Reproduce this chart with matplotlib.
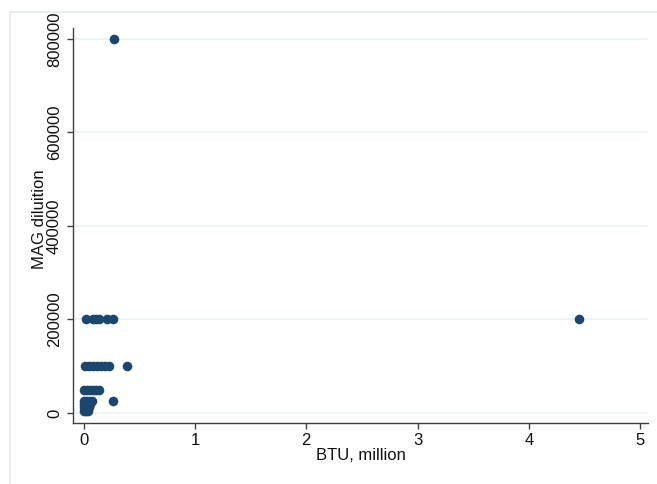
import numpy as np
import matplotlib.pyplot as plt
from matplotlib.lines import Line2D

plt.rcParams['font.family'] = ['Liberation Sans', 'DejaVu Sans']

# BTU (million) and MAG dilution
btu_200k = [0.02, 0.084, 0.11, 0.14, 0.21, 0.26, 4.45]
btu_100k = [0.012, 0.05, 0.084, 0.12, 0.155, 0.19, 0.23, 0.39]
btu_50k = [0.003, 0.03, 0.057, 0.084, 0.11, 0.137]
btu_25k = [0.0, 0.025, 0.05, 0.075, 0.26]
btu_low = [0.0, 0.01, 0.02, 0.035, 0.05, 0.06, 0.0, 0.015, 0.03, 0.045, 0.005, 0.02, 0.04]
mag_low = [20000, 20000, 20000, 20000, 20000, 20000, 12500, 12500, 12500, 12500, 5000, 5000, 5000]
btu_800k = [0.273]

btu = btu_800k + btu_200k + btu_100k + btu_50k + btu_25k + btu_low
mag = ([800000] * len(btu_800k) + [200000] * len(btu_200k) + [100000] * len(btu_100k)
       + [50000] * len(btu_50k) + [25000] * len(btu_25k) + mag_low)

yticks = [0, 200000, 400000, 600000, 800000]
xticks = [0, 1, 2, 3, 4, 5]

fig = plt.figure(figsize=(6.57, 4.84), dpi=100)
fig.patch.set_facecolor('white')
ax = fig.add_axes([73/657, 1 - 423/484, (648 - 73)/657, (423 - 28)/484])

ax.scatter(btu, mag, s=48, color='#1a476f', zorder=3, linewidths=0)

ax.set_xlim(-0.096, 5.07)
ax.set_ylim(-21400, 823500)
ax.set_xticks(xticks)
ax.set_yticks(yticks)
ax.set_yticklabels([str(v) for v in yticks], rotation=90, va='center')
ax.grid(axis='y', color='#eaf2f3', lw=1.2, zorder=0)
ax.set_axisbelow(True)

for side in ['top', 'right']:
    ax.spines[side].set_visible(False)
for side in ['left', 'bottom']:
    ax.spines[side].set_color('#404040')
    ax.spines[side].set_linewidth(1.0)
ax.tick_params(direction='out', length=4, width=1, color='#404040',
               labelsize=12, labelcolor='#111111')
ax.tick_params(axis='x', pad=3.4)
ax.tick_params(axis='y', pad=4.0)

ax.set_xlabel('BTU, million', fontsize=12, color='#111111', labelpad=0)
ax.set_ylabel('MAG diluition', fontsize=12, color='#111111', va='center')
ax.yaxis.set_label_coords(-0.0574, 0.515)

# light outer frame like the Stata graph region
x0 = 10 / 657
ytop = 1 - 12 / 484
fig.add_artist(Line2D([x0, 1], [ytop, ytop], transform=fig.transFigure, color='#e4eaec', lw=1.2))
fig.add_artist(Line2D([x0, x0], [0, ytop], transform=fig.transFigure, color='#e4eaec', lw=1.2))

fig.savefig('out.png', dpi=100)
